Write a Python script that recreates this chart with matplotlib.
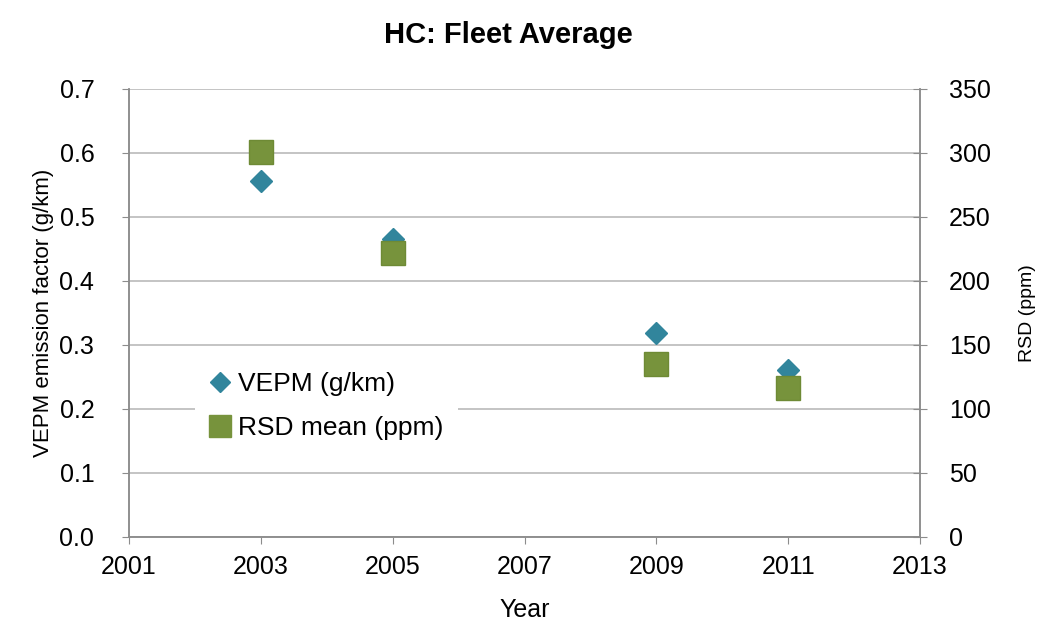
import matplotlib.pyplot as plt
from matplotlib.lines import Line2D

years = [2003, 2005, 2009, 2011]
vepm = [0.556, 0.465, 0.319, 0.261]     # g/km, left axis
rsd_mean = [301, 222, 135, 116]        # ppm, right axis

left_ticks = [0.0, 0.1, 0.2, 0.3, 0.4, 0.5, 0.6, 0.7]
right_ticks = [0, 50, 100, 150, 200, 250, 300, 350]
year_ticks = [2001, 2003, 2005, 2007, 2009, 2011, 2013]

plt.rcParams['font.family'] = ['Liberation Sans', 'DejaVu Sans']

teal = '#31859C'
green = '#77933C'
grey = '#8C8C8C'

fig = plt.figure(figsize=(10.44, 6.43), dpi=100)
ax = fig.add_axes([0.1236, 0.1649, 0.7576, 0.6967])
ax2 = ax.twinx()

ax.plot(years, vepm, linestyle='none', marker='D', markersize=11.5,
        color=teal, markeredgecolor=teal, zorder=3)
ax2.plot(years, rsd_mean, linestyle='none', marker='s', markersize=17,
         color=green, markeredgecolor='#6E8A35', zorder=3)

ax.set_xlim(2001, 2013)
ax.set_xticks(year_ticks)
ax.set_ylim(0, 0.7)
ax.set_yticks(left_ticks)
ax.set_yticklabels(['%.1f' % t for t in left_ticks])
ax2.set_ylim(0, 350)
ax2.set_yticks(right_ticks)

ax.grid(axis='y', color='#B4B4B4', lw=1.1)
ax.set_axisbelow(True)

for a in (ax, ax2):
    a.spines['top'].set_visible(False)
    for s in ('left', 'right', 'bottom'):
        a.spines[s].set_color(grey)
        a.spines[s].set_linewidth(1.1)

ax.tick_params(axis='x', direction='out', length=5, color=grey, labelsize=18, pad=8)
ax.tick_params(axis='y', direction='out', length=5, color=grey, labelsize=18, pad=20)
ax2.tick_params(axis='y', direction='inout', length=10, color=grey, labelsize=18, pad=16)

ax.set_xlabel('Year', fontsize=18, labelpad=14)
ax.set_ylabel('VEPM emission factor (g/km)', fontsize=16, labelpad=4)
ax2.set_ylabel('RSD (ppm)', fontsize=14, labelpad=20)
fig.text(0.487, 0.945, 'HC: Fleet Average', ha='center', va='center',
         fontsize=21, fontweight='bold')

handles = [
    Line2D([], [], linestyle='none', marker='D', markersize=10, color=teal),
    Line2D([], [], linestyle='none', marker='s', markersize=16, color=green),
]
leg = ax2.legend(handles, ['VEPM (g/km)', 'RSD mean (ppm)'], loc='upper left',
                 bbox_to_anchor=(0.083, 0.40), borderaxespad=0, frameon=True,
                 fontsize=19, handlelength=0.8, handletextpad=0.3,
                 labelspacing=0.75, borderpad=0.55, fancybox=False)
leg.get_frame().set_edgecolor('none')
leg.get_frame().set_facecolor('white')
leg.get_frame().set_alpha(1)

fig.savefig('out.png', dpi=100)
